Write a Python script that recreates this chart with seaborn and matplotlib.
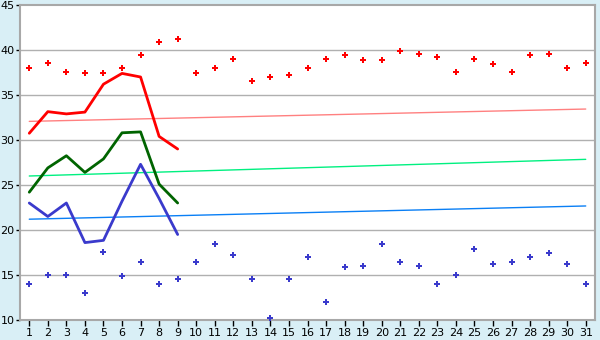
import matplotlib
matplotlib.use("Agg")
import matplotlib.pyplot as plt
import seaborn as sns
import pandas as pd

days = list(range(1, 32))
max_points = [38.0, 38.6, 37.6, 37.4, 37.5, 38.0, 39.4, 40.85, 41.2, 37.5,
              38.0, 39.0, 36.6, 37.0, 37.2, 38.0, 39.0, 39.4, 38.85, 38.85,
              39.85, 39.6, 39.2, 37.6, 39.0, 38.4, 37.6, 39.4, 39.6, 38.0, 38.6]
min_points = [14.0, 15.0, 15.0, 13.0, 17.6, 14.85, 16.4, 14.0, 14.6, 16.4,
              18.4, 17.2, 14.6, 10.2, 14.6, 17.0, 12.0, 15.85, 16.0, 18.5,
              16.4, 16.0, 14.0, 15.0, 17.85, 16.2, 16.4, 17.0, 17.4, 16.2, 14.0]

line_days = list(range(1, 10))
max_line = [30.75, 33.15, 32.9, 33.1, 36.2, 37.4, 37.0, 30.4, 29.0]
mean_line = [24.2, 26.9, 28.25, 26.4, 27.9, 30.8, 30.9, 25.1, 23.0]
min_line = [23.0, 21.5, 23.0, 18.6, 18.85, 23.2, 27.3, 23.5, 19.5]

trend_days = [1, 31]
trend_max = [32.07, 33.44]
trend_mean = [26.0, 27.85]
trend_min = [21.2, 22.67]

yticks = [10, 15, 20, 25, 30, 35, 40, 45]

bg = "#d9eff6"
sns.set_theme(style="white")
plt.rcParams["font.family"] = ["DejaVu Sans"]

fig = plt.figure(figsize=(6.0, 3.4), dpi=100, facecolor=bg)
ax = fig.add_axes([20/600, 20/340, 575/600, 315/340])
ax.set_facecolor("white")

for y in yticks[1:-1]:
    ax.axhline(y, color="#b0b0b0", lw=1.0, zorder=0)

# trend lines
sns.lineplot(x=trend_days, y=trend_max, ax=ax, color="#ff8080", lw=1.0, zorder=1)
sns.lineplot(x=trend_days, y=trend_mean, ax=ax, color="#00f080", lw=1.0, zorder=1)
sns.lineplot(x=trend_days, y=trend_min, ax=ax, color="#0a7ff5", lw=1.0, zorder=1)

# data lines
sns.lineplot(x=line_days, y=max_line, ax=ax, color="#ff0000", lw=2.0, zorder=3)
sns.lineplot(x=line_days, y=mean_line, ax=ax, color="#006400", lw=2.0, zorder=3)
sns.lineplot(x=line_days, y=min_line, ax=ax, color="#3a3acc", lw=2.0, zorder=3)

# scatter points
sns.scatterplot(x=days, y=max_points, ax=ax, color="#ff0000", marker="P",
                s=18, linewidth=0, zorder=4)
sns.scatterplot(x=days, y=min_points, ax=ax, color="#3a3acc", marker="P",
                s=18, linewidth=0, zorder=4)

ax.set_xlim(0.5, 31.5)
ax.set_ylim(10, 45)
ax.set_xticks(days)
ax.set_xticklabels([str(d) for d in days])
ax.set_yticks(yticks)
ax.set_yticklabels([str(t) for t in yticks])

for side in ["left", "right", "top", "bottom"]:
    ax.spines[side].set_color("#a8a8a8")
    ax.spines[side].set_linewidth(1.5)
    ax.spines[side].set_visible(True)

ax.tick_params(axis="both", which="both", width=1, color="black",
               labelsize=8, labelcolor="black")
ax.tick_params(axis="x", direction="out", bottom=True, length=4, pad=1.5)
ax.tick_params(axis="y", direction="out", left=True, length=3, pad=1)
ax.set_xlabel("")
ax.set_ylabel("")
ax.grid(False)

fig.savefig("out.png", dpi=100, facecolor=bg)
